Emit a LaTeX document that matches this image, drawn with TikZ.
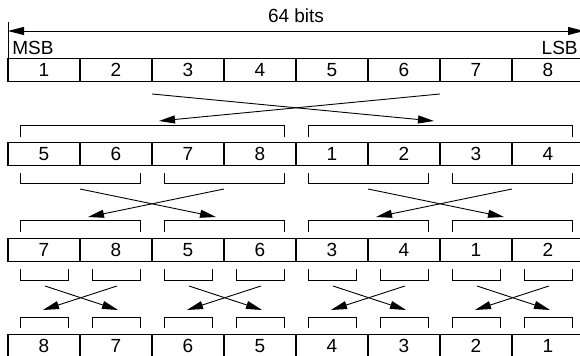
\documentclass[tikz,border=0pt]{standalone}
\usepackage{fontspec}
\setmainfont{Liberation Sans}
\usetikzlibrary{arrows.meta}
\begin{document}
\begin{tikzpicture}
  [x=0.5pt,y=-0.5pt,
   cell/.style={draw,line width=0.9pt,minimum width=36pt,minimum height=11.5pt,
     inner sep=0pt,outer sep=0pt,font=\fontsize{9.5}{11}\selectfont},
   lbl/.style={inner sep=0pt,font=\fontsize{9.5}{11}\selectfont},
   brk/.style={line width=0.45pt},
   arr/.style={line width=0.45pt,-{Triangle[length=8pt,width=4pt]}}]
  \useasboundingbox (0,0) rectangle (580,356);

  \foreach \lab [count=\i] in {1,2,3,4,5,6,7,8}
    \node[cell] (a\i) at ({72*\i-28},70) {\lab};
  \foreach \lab [count=\i] in {5,6,7,8,1,2,3,4}
    \node[cell] (b\i) at ({72*\i-28},154) {\lab};
  \foreach \lab [count=\i] in {7,8,5,6,3,4,1,2}
    \node[cell] (c\i) at ({72*\i-28},250) {\lab};
  \foreach \lab [count=\i] in {8,7,6,5,4,3,2,1}
    \node[cell] (d\i) at ({72*\i-28},346) {\lab};

  % cota de 64 bits sobre la primera fila
  \coordinate (dl) at (8,31);
  \coordinate (dr) at (584,31);
  \draw[brk] (a1.north west) -- (8,22);
  \draw[brk] (a8.north east) -- (584,22);
  \draw[line width=0.45pt,{Triangle[length=8pt,width=4pt]}-{Triangle[length=8pt,width=4pt]}] (dl) -- (dr);
  \node[lbl,anchor=base] (bits) at (296,22.5) {64 bits};
  \node[lbl,anchor=base west] (msb) at (12,55) {MSB};
  \node[lbl,anchor=base east] (lsb) at (578,55) {LSB};

  \coordinate (s1) at (152,94);
  \coordinate (s2) at (440,94);
  \coordinate (t1) at (159,121);
  \coordinate (t2) at (434,121);
  \draw[arr] (s1) -- (t2);
  \draw[arr] (s2) -- (t1);
  \foreach \l/\r in {20/284,308/572}
    \draw[brk] (\l,137) -- (\l,125) -- (\r,125) -- (\r,137);

  \foreach \l/\r in {20/140,164/284,308/428,452/572}{
    \draw[brk] (\l,173) -- (\l,183) -- (\r,183) -- (\r,173);
    \draw[brk] (\l,232) -- (\l,220) -- (\r,220) -- (\r,232);
  }
  \foreach \o [count=\k] in {0,288}{
    \coordinate (u\k) at ({80+\o},189);
    \coordinate (v\k) at ({224+\o},189);
    \coordinate (w\k) at ({88+\o},217);
    \coordinate (z\k) at ({216+\o},217);
    \draw[arr] (u\k) -- (z\k);
    \draw[arr] (v\k) -- (w\k);
  }

  \foreach \i in {0,...,7}{
    \draw[brk] ({20+72*\i},269) -- ({20+72*\i},280) -- ({68+72*\i},280) -- ({68+72*\i},269);
    \draw[brk] ({20+72*\i},328) -- ({20+72*\i},317) -- ({68+72*\i},317) -- ({68+72*\i},328);
  }
  \foreach \o [count=\k] in {0,144,288,432}{
    \coordinate (p\k) at ({45+\o},286);
    \coordinate (q\k) at ({117+\o},286);
    \coordinate (r\k) at ({43+\o},310);
    \coordinate (h\k) at ({118+\o},310);
    \draw[arr] (p\k) -- (h\k);
    \draw[arr] (q\k) -- (r\k);
  }
\end{tikzpicture}
\end{document}
